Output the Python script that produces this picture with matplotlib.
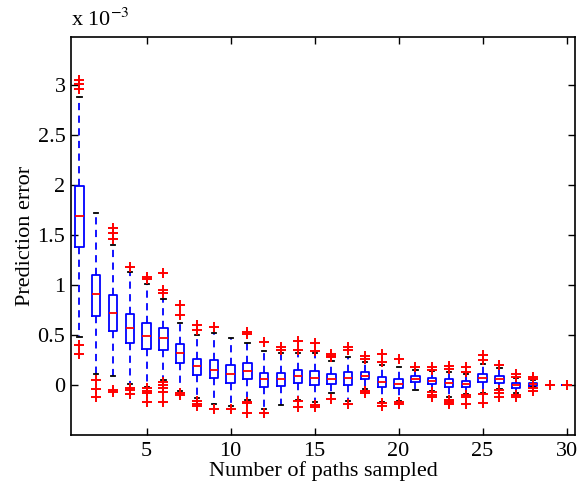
import matplotlib
matplotlib.use("Agg")
import matplotlib.pyplot as plt

plt.rcParams['font.family'] = ['Liberation Serif', 'DejaVu Serif']
plt.rcParams['mathtext.fontset'] = 'stix'

# prediction error per number of sampled paths (units of 1e-3)
paths = list(range(1, 31))
q1 = [1.38, 0.69, 0.54, 0.42, 0.36, 0.35, 0.22, 0.10, 0.07, 0.02,
      0.06, -0.02, -0.01, 0.02, 0.00, 0.01, 0.00, 0.06, -0.02, -0.03,
      0.03, 0.01, -0.02, -0.02, 0.03, 0.02, -0.03, -0.01, 0.0, 0.0]
med = [1.69, 0.91, 0.72, 0.57, 0.49, 0.47, 0.32, 0.19, 0.15, 0.11,
       0.14, 0.06, 0.06, 0.09, 0.07, 0.06, 0.07, 0.09, 0.03, 0.01,
       0.06, 0.04, 0.02, 0.01, 0.07, 0.06, 0.00, 0.01, 0.0, 0.0]
q3 = [1.99, 1.10, 0.90, 0.71, 0.62, 0.57, 0.41, 0.26, 0.25, 0.20,
      0.22, 0.12, 0.12, 0.15, 0.14, 0.11, 0.13, 0.13, 0.08, 0.06,
      0.09, 0.07, 0.06, 0.04, 0.11, 0.09, 0.02, 0.02, 0.0, 0.0]
whis_lo = [0.48, 0.11, 0.09, 0.01, -0.02, 0.05, -0.06, -0.13, -0.19, -0.21,
           -0.15, -0.24, -0.20, -0.15, -0.17, -0.08, -0.16, -0.04, -0.17, -0.16,
           -0.05, -0.06, -0.12, -0.09, -0.08, -0.04, -0.08, -0.02, 0.0, 0.0]
whis_hi = [2.88, 1.72, 1.40, 1.13, 1.01, 0.86, 0.62, 0.50, 0.52, 0.47,
           0.42, 0.34, 0.32, 0.32, 0.32, 0.24, 0.28, 0.23, 0.20, 0.18,
           0.15, 0.14, 0.13, 0.11, 0.21, 0.17, 0.07, 0.05, 0.0, 0.0]
outliers = [
    [3.05, 3.01, 2.96, 0.40, 0.31],
    [0.05, -0.04, -0.12],
    [1.57, 1.52, 1.46, -0.05, -0.07],
    [1.18, -0.03, -0.05, -0.09],
    [1.08, 1.06, -0.03, -0.06, -0.08, -0.17],
    [1.12, 0.95, 0.92, 0.03, 0.0, -0.03, -0.07, -0.17],
    [0.80, 0.70, -0.08, -0.10],
    [0.60, 0.55, -0.16, -0.19, -0.21],
    [0.58, -0.24],
    [-0.24],
    [0.53, 0.51, -0.17, -0.18, -0.28],
    [0.43, -0.28],
    [0.38, 0.35],
    [0.44, 0.35, -0.16, -0.22],
    [0.42, 0.34, -0.20, -0.22],
    [0.31, 0.29, 0.28, -0.14],
    [0.38, 0.35, -0.19],
    [0.29, 0.26, -0.06, -0.08],
    [0.31, 0.23, -0.18, -0.21],
    [0.26, -0.17, -0.19],
    [0.18],
    [0.18, 0.15, -0.07, -0.10, -0.12],
    [0.19, 0.16, -0.15, -0.17, -0.19],
    [0.18, 0.13, -0.10, -0.12, -0.19],
    [0.30, 0.25, -0.09, -0.18],
    [0.20, -0.05, -0.08, -0.12],
    [0.11, 0.08, -0.10, -0.12],
    [0.08, 0.06, -0.03, -0.06],
    [0.0],
    [0.0],
]

stats = []
for i in range(len(paths)):
    stats.append(dict(med=med[i], q1=q1[i], q3=q3[i],
                      whislo=whis_lo[i], whishi=whis_hi[i],
                      fliers=outliers[i]))

fig = plt.figure(figsize=(5.84, 4.83), dpi=100)
ax = fig.add_axes([0.1216, 0.0994, 0.863, 0.824])

ax.bxp(stats, positions=paths, widths=0.5, showfliers=True,
       boxprops=dict(color='blue', linewidth=1.3),
       medianprops=dict(color='red', linewidth=1.3),
       whiskerprops=dict(color='blue', linewidth=1.3, linestyle=(0, (4, 3))),
       capprops=dict(color='black', linewidth=1.3),
       capwidths=0.25,
       flierprops=dict(marker='+', markeredgecolor='red', markersize=7,
                       markeredgewidth=1.4, linestyle='none'))

ax.set_xlim(0.5, 30.5)
ax.set_ylim(-0.5, 3.48)
ax.set_xticks([5, 10, 15, 20, 25, 30])
ax.set_xticklabels(['5', '10', '15', '20', '25', '30'])
ax.set_yticks([0, 0.5, 1, 1.5, 2, 2.5, 3])
ax.set_yticklabels(['0', '0.5', '1', '1.5', '2', '2.5', '3'])
ax.tick_params(direction='in', top=True, right=True, length=5, width=1,
               labelsize=16, pad=4)
ax.tick_params(axis='x', pad=5)
for s in ax.spines.values():
    s.set_linewidth(1.2)

ax.set_xlabel('Number of paths sampled', fontsize=16, labelpad=0)
ax.set_ylabel('Prediction error', fontsize=16, labelpad=2)
ax.text(0.0, 1.015, r'x 10$^{-3}$', transform=ax.transAxes,
        fontsize=16, ha='left', va='bottom')

fig.savefig('out.png', dpi=100)
